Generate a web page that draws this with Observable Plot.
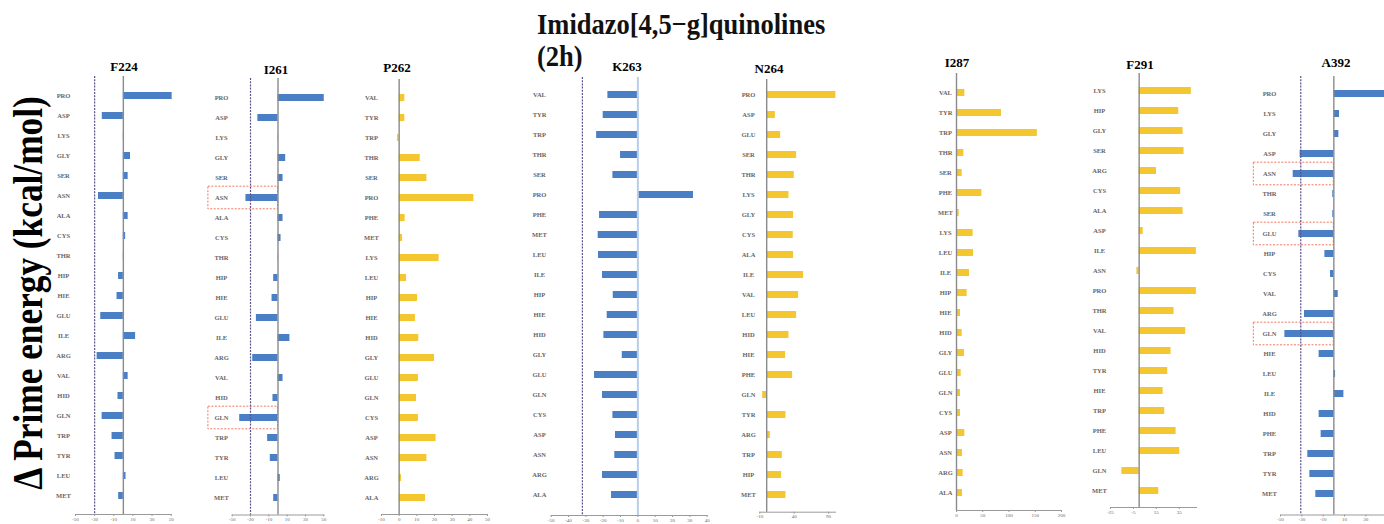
<!DOCTYPE html>
<html>
<head>
<meta charset="utf-8">
<script src="https://cdn.jsdelivr.net/npm/d3@7"></script>
<script src="https://cdn.jsdelivr.net/npm/@observablehq/plot@0.6"></script>
<style>
  html, body { margin: 0; padding: 0; background: #fff; }
  #page { position: relative; width: 1384px; height: 524px; overflow: hidden; background: #fff;
          font-family: "Liberation Serif", "Times New Roman", serif; }
  .panel { position: absolute; top: 0; }
  .ptitle { position: absolute; transform: translate(-50%, -50%); font-weight: bold; font-size: 13px; color: #000; white-space: nowrap; }
  #mainTitle { position: absolute; left: 537px; top: 8px; font-weight: bold; font-size: 26.5px; line-height: 29px; color: #111;
               transform: scale(1, 1.12); transform-origin: 0 0; white-space: nowrap; }
  #yLabel { position: absolute; left: 28px; top: 293px; font-weight: bold; font-size: 42px; color: #000; white-space: nowrap;
            transform: translate(-50%, -50%) rotate(-90deg) scaleX(0.84); }
</style>
</head>
<body>
<div id="page">
  <div id="mainTitle">Imidazo[4,5−g]quinolines<br>(2h)</div>
  <div id="yLabel">Δ Prime energy (kcal/mol)</div>
</div>
<script>
// ---------- data ----------
const blue = "#4a7fc5";
const yellow = "#f4c62f";

const f224Residues = ["PRO","ASP","LYS","GLY","SER","ASN","ALA","CYS","THR","HIP","HIE","GLU","ILE","ARG","VAL","HID","GLN","TRP","TYR","LEU","MET"];
const f224Energy   = [51,-22,0.5,7.5,5,-26,5,2.4,0.3,-5,-6.6,-23.6,12.8,-27.4,5,-5.6,-22.2,-11.8,-8.7,2.8,-4.9];
const f224Ticks    = [-50,-30,-10,10,30,50];

const i261Residues = ["PRO","ASP","LYS","GLY","SER","ASN","ALA","CYS","THR","HIP","HIE","GLU","ILE","ARG","VAL","HID","GLN","TRP","TYR","LEU","MET"];
const i261Energy   = [50.5,-22,0.3,8.4,5.5,-35,5.5,3.3,0.3,-4.7,-6.5,-23.6,13,-27.6,5.5,-5.5,-41.8,-11.3,-8.4,2.5,-4.7];
const i261Ticks    = [-50,-30,-10,10,30,50];
const i261Marked   = ["ASN","GLN"];

const p262Residues = ["VAL","TYR","TRP","THR","SER","PRO","PHE","MET","LYS","LEU","HIP","HIE","HID","GLY","GLU","GLN","CYS","ASP","ASN","ARG","ALA"];
const p262Energy   = [3.2,3.2,-0.9,11.9,15.7,42.3,3.4,1.9,22.6,4.2,10.4,9.2,11.1,20,10.9,9.8,10.9,20.9,15.7,1.3,14.9];
const p262Ticks    = [-10,0,10,20,30,40,50];

const k263Residues = ["VAL","TYR","TRP","THR","SER","PRO","PHE","MET","LEU","ILE","HIP","HIE","HID","GLY","GLU","GLN","CYS","ASP","ASN","ARG","ALA"];
const k263Energy   = [-17.3,-20,-23.8,-10,-14.4,32.1,-22.1,-22.9,-22.7,-20.4,-14.2,-17.7,-19.6,-9,-25,-20.4,-14.4,-12.9,-13.3,-20.4,-15.2];
const k263Ticks    = [-50,-40,-30,-20,-10,0,10,20,30,40];

const n264Residues = ["PRO","ASP","GLU","SER","THR","LYS","GLY","CYS","ALA","ILE","VAL","LEU","HID","HIE","PHE","GLN","TYR","ARG","TRP","HIP","MET"];
const n264Energy   = [100.5,12.6,20.3,43.5,40.1,32.4,39.1,38.6,39.1,53.6,46.4,43.5,32.4,27.5,37.7,-5.8,28,5.3,22.7,21.7,28];
const n264Ticks    = [-10,40,90];

const i287Residues = ["VAL","TYR","TRP","THR","SER","PHE","MET","LYS","LEU","ILE","HIP","HIE","HID","GLY","GLU","GLN","CYS","ASP","ASN","ARG","ALA"];
const i287Energy   = [15.9,85.7,154,14,10.8,48.3,5,31.7,32.4,24.8,20.3,7.6,10.8,15.2,8.9,7.6,7.6,15.9,11.4,12.7,11.4];
const i287Ticks    = [0,50,100,150,200];

const f291Residues = ["LYS","HIP","GLY","SER","ARG","CYS","ALA","ASP","ILE","ASN","PRO","THR","VAL","HID","TYR","HIE","TRP","PHE","LEU","GLN","MET"];
const f291Energy   = [45.5,34.5,38.3,39.1,15.1,36.2,38.3,3.5,49.9,-2,49.9,30.4,40.6,27.8,24.9,20.9,22.3,32.2,35.4,-15.1,17.1];
const f291Ticks    = [-25,-5,15,35];

const a392Residues = ["PRO","LYS","GLY","ASP","ASN","THR","SER","GLU","HIP","CYS","VAL","ARG","GLN","HIE","LEU","ILE","HID","PHE","TRP","TYR","MET"];
const a392Energy   = [55,5.3,4.7,-31.6,-38.1,-1,-1,-32.8,-8.4,-3.1,4.1,-27.5,-45.9,-13.8,1.6,9.4,-13.8,-11.9,-24.4,-22.5,-16.9];
const a392Ticks    = [-50,-30,-10,10,30];
const a392Marked   = ["ASN","GLU","GLN"];

// ---------- panel configs (data + layout) ----------
const panels = [
  {name:"F224", res:f224Residues, val:f224Energy, ticks:f224Ticks, color:blue, domain:[-50,50], ref:-30,
   L:{x0:75, x1:170.7, yTop:88, yBot:504, axisY:514, top:76, labelX:63, tx:124, ty:67}},
  {name:"I261", res:i261Residues, val:i261Energy, ticks:i261Ticks, color:blue, domain:[-50,50], ref:-30, marked:i261Marked, markFrom:-76,
   L:{x0:231.7, x1:323.3, yTop:89, yBot:506, axisY:514.5, top:78, labelX:221, tx:276, ty:70}},
  {name:"P262", res:p262Residues, val:p262Energy, ticks:p262Ticks, color:yellow, domain:[-10,50],
   L:{x0:381, x1:487, yTop:90, yBot:505.7, axisY:514, top:79, labelX:371, tx:397, ty:68}},
  {name:"K263", res:k263Residues, val:k263Energy, ticks:k263Ticks, color:blue, domain:[-50,40], ref:-32, zeroColor:"#b9cde9",
   L:{x0:550.7, x1:706.7, yTop:87, yBot:501.7, axisY:515, top:77, labelX:539, tx:627, ty:67}},
  {name:"N264", res:n264Residues, val:n264Energy, ticks:n264Ticks, color:yellow, domain:[-10,100],
   L:{x0:759.3, x1:835, yTop:87.7, yBot:502, axisY:511.7, top:79, labelX:748, tx:769, ty:69}},
  {name:"I287", res:i287Residues, val:i287Energy, ticks:i287Ticks, color:yellow, domain:[0,200],
   L:{x0:956, x1:1061, yTop:83.3, yBot:501, axisY:510, top:73, labelX:945, tx:957, ty:63}},
  {name:"F291", res:f291Residues, val:f291Energy, ticks:f291Ticks, color:yellow, domain:[-25,50],
   L:{x0:1110, x1:1196, yTop:83.7, yBot:497.7, axisY:507, top:73, labelX:1099, tx:1140, ty:65}},
  {name:"A392", res:a392Residues, val:a392Energy, ticks:a392Ticks, color:blue, domain:[-50,50], ref:-31, marked:a392Marked, markFrom:-75,
   L:{x0:1280, x1:1386.7, yTop:87.3, yBot:500.7, axisY:514.5, top:76, labelX:1269, tx:1336, ty:63}}
];

const page = document.getElementById("page");
const H = 524;
const barThickness = 7.5;

for (const p of panels) {
  const L = p.L;
  const left = L.labelX - 25;
  const width = Math.ceil(L.x1 - left + 12);
  const n = p.res.length;
  const step = (L.yBot - L.yTop) / (n - 1);
  const pi = 1 - barThickness / step;
  const rows = p.res.map((r, i) => ({residue: r, energy: p.val[i]}));

  const marks = [
    Plot.frame({anchor: "bottom", stroke: "#9a9a9a", strokeWidth: 1}),
    Plot.axisX({ticks: p.ticks, tickSize: 2, tickPadding: 0.5, fontSize: 5, fill: "#666", stroke: "#9a9a9a",
                label: null, tickFormat: d => String(d)}),
    Plot.axisY({tickSize: 0, tickPadding: L.x0 - L.labelX, textAnchor: "middle", fontSize: 6.5,
                fontWeight: "bold", fill: "#666", label: null}),
    Plot.barX(rows, {x: "energy", y: "residue", fill: p.color})
  ];
  if (p.marked) {
    marks.push(Plot.barX(p.marked, {x1: p.markFrom, x2: 0, y: d => d, fill: "none", stroke: "#ee6a50",
      strokeWidth: 0.9, strokeDasharray: "2,1.5", insetTop: -7.8, insetBottom: -7.8}));
  }
  marks.push(Plot.ruleX([0], {stroke: p.zeroColor || "#8a8a8a", strokeWidth: p.zeroColor ? 2 : 1.4}));
  if (p.ref !== undefined) {
    marks.push(Plot.ruleX([p.ref], {stroke: "#5d4f8c", strokeWidth: 1.2, strokeDasharray: "2,1.2"}));
  }

  const chart = Plot.plot({
    width, height: H,
    marginLeft: L.x0 - left,
    marginRight: width - (L.x1 - left),
    marginTop: L.top,
    marginBottom: H - L.axisY,
    style: {background: "transparent", overflow: "visible", fontFamily: '"Liberation Serif", "Times New Roman", serif'},
    x: {domain: p.domain},
    y: {domain: p.res, range: [L.yTop - step / 2, L.yBot + step / 2], paddingInner: pi, paddingOuter: pi / 2},
    marks
  });
  chart.classList.add("panel");
  chart.style.left = left + "px";
  chart.style.position = "absolute";
  chart.style.top = "0px";
  chart.style.maxWidth = "none";
  page.appendChild(chart);

  const t = document.createElement("div");
  t.className = "ptitle";
  t.textContent = p.name;
  t.style.left = L.tx + "px";
  t.style.top = L.ty + "px";
  page.appendChild(t);
}
</script>
</body>
</html>
